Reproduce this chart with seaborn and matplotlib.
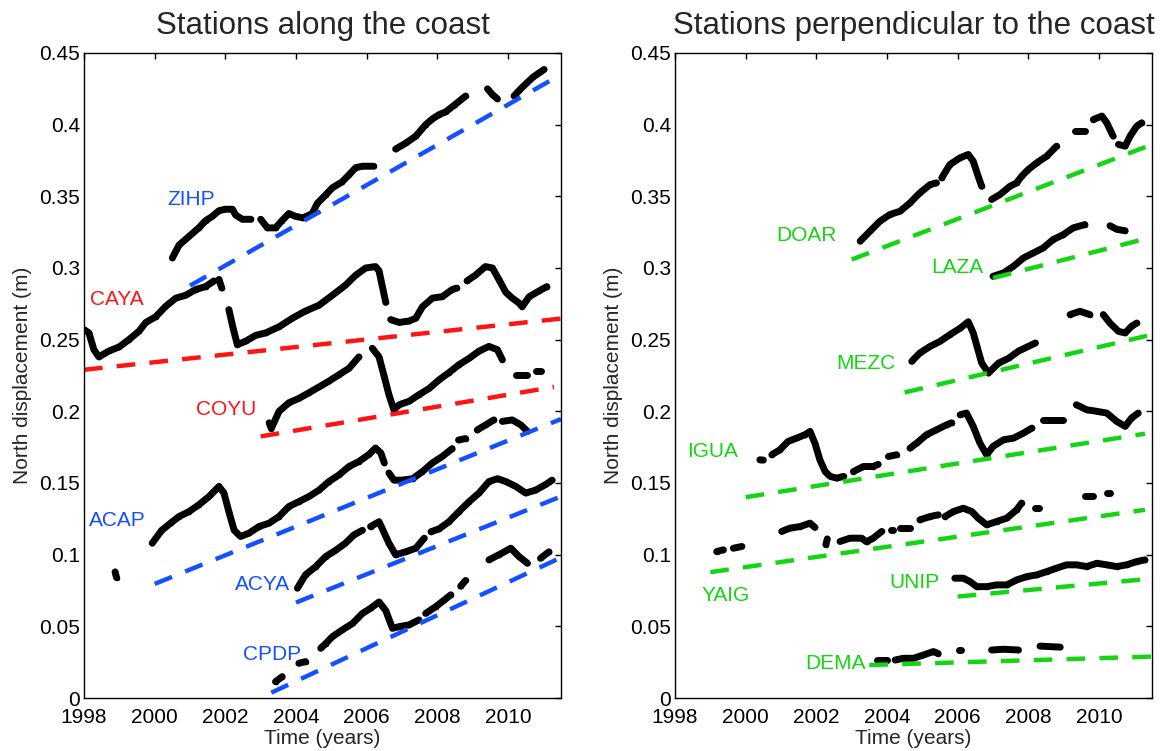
import numpy as np
import pandas as pd
import matplotlib
matplotlib.use("Agg")
import matplotlib.pyplot as plt
import seaborn as sns

nan = np.nan

# ---------------- data: left panel (stations along the coast) ----------------
ZIHP_t = [2000.5, 2000.69, 2000.97, 2001.25, 2001.44, 2001.63, 2001.82, 2002.0, 2002.2, 2002.29, 2002.48, 2002.72, nan,
          2003.0, 2003.19, 2003.42, 2003.6, 2003.8, 2003.99, 2004.2, 2004.46, 2004.6, 2004.84, 2005.03, 2005.3, 2005.5,
          2005.69, 2005.88, 2006.2, nan, 2006.82, 2007.1, 2007.39, 2007.67, 2007.86, 2008.05, 2008.24, 2008.5, 2008.8, nan,
          2009.42, 2009.56, 2009.7, nan, 2010.17, 2010.4, 2010.7, 2011.02]
ZIHP_v = [0.307, 0.316, 0.322, 0.328, 0.333, 0.336, 0.340, 0.341, 0.341, 0.337, 0.334, 0.334, nan,
          0.334, 0.328, 0.328, 0.333, 0.338, 0.336, 0.335, 0.338, 0.345, 0.351, 0.356, 0.360, 0.365,
          0.370, 0.371, 0.371, nan, 0.383, 0.387, 0.392, 0.400, 0.404, 0.407, 0.409, 0.414, 0.420, nan,
          0.425, 0.421, 0.418, nan, 0.420, 0.426, 0.433, 0.4385]

CAYA_t = [1998.0, 1998.14, 1998.28, 1998.42, 1998.7, 1999.0, 1999.27, 1999.56, 1999.75, 2000.03, 2000.3, 2000.6, 2000.88,
          2001.16, 2001.44, 2001.68, nan, 2001.82, 2001.9, nan, 2002.1, 2002.22, 2002.34, 2002.58, 2002.86, 2003.14,
          2003.52, 2003.9, 2004.27, 2004.65, 2005.03, 2005.4, 2005.69, 2005.97, 2006.25, 2006.35, 2006.54, nan,
          2006.68, 2006.92, 2007.2, 2007.39, 2007.58, 2007.86, 2008.14, 2008.42, 2008.55, nan, 2008.84, 2009.08,
          2009.36, 2009.56, 2009.74, 2009.94, 2010.12, 2010.31, 2010.4, 2010.6, 2010.88, 2011.1]
CAYA_v = [0.257, 0.2547, 0.243, 0.238, 0.242, 0.245, 0.250, 0.256, 0.262, 0.266, 0.273, 0.279, 0.281,
          0.285, 0.287, 0.291, nan, 0.292, 0.286, nan, 0.271, 0.258, 0.2465, 0.249, 0.253, 0.2547,
          0.259, 0.265, 0.270, 0.274, 0.281, 0.288, 0.295, 0.300, 0.301, 0.298, 0.276, nan,
          0.264, 0.262, 0.263, 0.265, 0.273, 0.279, 0.280, 0.285, 0.286, nan, 0.291, 0.295,
          0.301, 0.300, 0.292, 0.283, 0.279, 0.2756, 0.273, 0.280, 0.284, 0.287]

COYU_t = [2003.24, 2003.3, 2003.52, 2003.8, 2004.08, 2004.37, 2004.65, 2004.93, 2005.22, 2005.5, 2005.78, nan,
          2006.16, 2006.35, 2006.5, 2006.63, 2006.77, 2006.92, 2007.2, 2007.48, 2007.77, 2008.05, 2008.33, 2008.61,
          2008.9, 2009.18, 2009.46, 2009.7, 2009.84, nan, 2010.22, 2010.55, nan, 2010.78, 2010.92]
COYU_v = [0.192, 0.188, 0.200, 0.206, 0.209, 0.213, 0.217, 0.221, 0.2256, 0.230, 0.238, nan,
          0.244, 0.238, 0.224, 0.2116, 0.201, 0.2046, 0.207, 0.2116, 0.216, 0.222, 0.227, 0.2325,
          0.237, 0.242, 0.2453, 0.243, 0.236, nan, 0.2256, 0.2256, nan, 0.228, 0.228]

ACAP_t = [1998.88, 1998.92, nan, 1999.93, 2000.2, 2000.45, 2000.69, 2000.97, 2001.25, 2001.54, 2001.82, 2001.96, 2002.1,
          2002.25, 2002.43, 2002.67, 2002.95, 2003.24, 2003.52, 2003.8, 2004.08, 2004.37, 2004.65, 2004.93, 2005.22,
          2005.5, 2005.78, 2006.07, 2006.25, 2006.4, 2006.5, nan, 2006.63, 2006.77, 2007.0, 2007.3, 2007.58, 2007.86,
          2008.14, 2008.42, nan, 2008.6, 2008.8, nan, 2009.13, 2009.37, 2009.6, nan, 2009.84, 2010.12, 2010.36, 2010.55]
ACAP_v = [0.088, 0.084, nan, 0.108, 0.117, 0.122, 0.1266, 0.130, 0.1348, 0.1406, 0.1476, 0.143, 0.130,
          0.117, 0.1127, 0.115, 0.1196, 0.122, 0.1266, 0.1336, 0.137, 0.1406, 0.145, 0.151, 0.1557,
          0.1615, 0.165, 0.170, 0.1744, 0.171, 0.164, nan, 0.157, 0.152, 0.152, 0.153, 0.158, 0.164,
          0.1685, 0.174, nan, 0.180, 0.181, nan, 0.187, 0.1906, 0.194, nan, 0.193, 0.194, 0.1906, 0.186]

ACYA_t = [2004.04, 2004.27, 2004.56, 2004.84, 2005.12, 2005.4, 2005.64, 2005.88, nan, 2006.11, 2006.35, 2006.5, 2006.63,
          2006.82, 2007.1, 2007.39, 2007.63, nan, 2007.82, 2008.05, 2008.33, 2008.61, 2008.9, 2009.18, 2009.46, 2009.7,
          2009.94, 2010.22, 2010.5, 2010.78, 2011.07, 2011.25]
ACYA_v = [0.0766, 0.086, 0.0917, 0.0987, 0.103, 0.108, 0.1138, 0.117, nan, 0.1196, 0.123, 0.115, 0.108,
          0.0999, 0.102, 0.1045, 0.1115, nan, 0.116, 0.118, 0.123, 0.130, 0.137, 0.143, 0.151, 0.153,
          0.151, 0.1476, 0.143, 0.145, 0.149, 0.152]

CPDP_t = [2003.42, 2003.61, nan, 2004.08, 2004.27, nan, 2004.7, 2004.84, 2005.03, 2005.31, 2005.6, 2005.88, 2006.11,
          2006.35, 2006.54, 2006.73, 2006.92, 2007.2, 2007.48, nan, 2007.67, 2007.96, 2008.2, 2008.38, nan, 2008.66,
          2008.8, nan, 2009.46, 2009.74, 2010.08, 2010.31, 2010.55, nan, 2010.92, 2011.16]
CPDP_v = [0.0114, 0.0149, nan, 0.0242, 0.0254, nan, 0.0347, 0.038, 0.0428, 0.0475, 0.052, 0.059, 0.0626,
          0.067, 0.061, 0.0486, 0.0498, 0.051, 0.0545, nan, 0.059, 0.0638, 0.0684, 0.072, nan, 0.078,
          0.082, nan, 0.0964, 0.0999, 0.1045, 0.0987, 0.094, nan, 0.0975, 0.102]

# ---------------- data: right panel (stations perpendicular to the coast) ----------------
DOAR_t = [2003.24, 2003.52, 2003.8, 2004.08, 2004.37, 2004.65, 2004.93, 2005.22, 2005.4, nan, 2005.55, 2005.78, 2006.07,
          2006.3, 2006.44, 2006.58, 2006.68, nan, 2006.96, 2007.2, 2007.48, 2007.67, 2007.81, 2008.0, 2008.24, 2008.52,
          2008.8, nan, 2009.32, 2009.6, nan, 2009.84, 2010.08, 2010.22, 2010.4, nan, 2010.55, 2010.74, 2010.88, 2011.07,
          2011.21]
DOAR_v = [0.3187, 0.3257, 0.3326, 0.3373, 0.3396, 0.3454, 0.3524, 0.3582, 0.3594, nan, 0.3629, 0.3722, 0.3769,
          0.3792, 0.3745, 0.364, 0.357, nan, 0.3478, 0.3513, 0.357, 0.3594, 0.364, 0.3687, 0.3734, 0.378,
          0.385, nan, 0.3955, 0.3955, nan, 0.4036, 0.406, 0.4013, 0.392, nan, 0.3862, 0.385, 0.392, 0.399,
          0.4013]

LAZA_t = [2007.0, 2007.3, 2007.58, 2007.86, 2008.14, 2008.42, 2008.7, 2008.99, 2009.27, 2009.6, nan, 2010.31, 2010.5,
          2010.74]
LAZA_v = [0.2942, 0.2966, 0.3012, 0.307, 0.3105, 0.314, 0.3198, 0.3233, 0.328, 0.3303, nan, 0.3295, 0.327, 0.326]

MEZC_t = [2004.7, 2004.93, 2005.22, 2005.5, 2005.78, 2006.07, 2006.3, 2006.44, 2006.68, 2006.87, 2007.16, 2007.44,
          2007.72, 2008.0, 2008.2, nan, 2009.18, 2009.46, 2009.74, nan, 2010.12, 2010.31, 2010.55, 2010.74, 2010.92,
          2011.07]
MEZC_v = [0.2349, 0.2407, 0.2453, 0.2488, 0.2535, 0.258, 0.2625, 0.2547, 0.2337, 0.2267, 0.2337, 0.237,
          0.242, 0.2453, 0.2477, nan, 0.2675, 0.2698, 0.2675, nan, 0.2675, 0.2616, 0.2558, 0.2547, 0.2593,
          0.2616]

IGUA_t = [2000.4, 2000.5, nan, 2000.74, 2000.97, 2001.2, 2001.44, 2001.68, 2001.82, 2001.96, 2002.1, 2002.25, 2002.39,
          2002.58, 2002.77, nan, 2003.05, 2003.33, 2003.61, 2003.75, nan, 2004.04, 2004.27, nan, 2004.65, 2004.84,
          2005.12, 2005.4, 2005.69, 2005.83, nan, 2006.07, 2006.25, 2006.44, 2006.63, 2006.82, 2007.0, 2007.3, 2007.58,
          2007.86, 2008.1, nan, 2008.42, 2008.99, nan, 2009.36, 2009.65, 2009.94, 2010.22, 2010.5, 2010.74, 2010.92,
          2011.11]
IGUA_v = [0.1662, 0.166, nan, 0.1697, 0.1732, 0.179, 0.1813, 0.1837, 0.186, 0.1778, 0.1662, 0.158, 0.1546,
          0.1534, 0.1546, nan, 0.158, 0.1615, 0.1615, 0.163, nan, 0.1685, 0.1697, nan, 0.1743, 0.1778,
          0.1837, 0.1871, 0.1906, 0.192, nan, 0.1976, 0.1988, 0.1895, 0.1778, 0.1697, 0.1755, 0.1802, 0.1813,
          0.1848, 0.1883, nan, 0.1941, 0.1941, nan, 0.2046, 0.2011, 0.2, 0.1988, 0.193, 0.1895, 0.1953,
          0.1988]

YAIG_t = [1999.18, 1999.37, nan, 1999.65, 1999.89, nan, 2001.02, 2001.25, 2001.54, 2001.82, 2001.96, nan, 2002.27,
          2002.31, nan, 2002.67, 2002.95, 2003.28, 2003.42, 2003.61, 2003.85, nan, 2004.1, 2004.16, nan, 2004.37,
          2004.65, nan, 2004.93, 2005.22, 2005.45, nan, 2005.64, 2005.88, 2006.16, 2006.4, 2006.58, 2006.82, 2007.1,
          2007.39, 2007.67, 2007.81, nan, 2008.2, 2008.3, nan, 2009.6, 2009.84, nan, 2010.22, 2010.31]
YAIG_v = [0.1022, 0.1034, nan, 0.1045, 0.1057, nan, 0.1162, 0.1185, 0.1196, 0.122, 0.119, nan, 0.107,
          0.111, nan, 0.1092, 0.1115, 0.1115, 0.109, 0.1115, 0.1162, nan, 0.1173, 0.1173, nan, 0.1185,
          0.1185, nan, 0.1243, 0.1266, 0.1278, nan, 0.1266, 0.1301, 0.1324, 0.1301, 0.1255, 0.1208, 0.1231,
          0.1255, 0.1313, 0.136, nan, 0.1324, 0.1324, nan, 0.1406, 0.1406, nan, 0.143, 0.143]

UNIP_t = [2005.92, 2006.16, 2006.35, 2006.54, 2006.82, 2007.1, 2007.39, 2007.67, 2007.96, 2008.24, 2008.52, 2008.8,
          2009.08, 2009.37, 2009.65, 2009.94, 2010.22, 2010.5, 2010.78, 2011.07, 2011.3]
UNIP_v = [0.0836, 0.0836, 0.0812, 0.0777, 0.0777, 0.0789, 0.0789, 0.0824, 0.0847, 0.0859, 0.0882, 0.0906,
          0.0929, 0.0929, 0.0917, 0.094, 0.0929, 0.0917, 0.0929, 0.0952, 0.0964]

DEMA_t = [2003.71, 2003.99, nan, 2004.23, 2004.46, 2004.75, 2005.03, 2005.31, 2005.45, nan, 2006.04, 2006.1, nan,
          2006.96, 2007.3, 2007.72, nan, 2008.33, 2008.9]
DEMA_v = [0.0265, 0.0265, nan, 0.0265, 0.0277, 0.0277, 0.030, 0.0324, 0.031, nan, 0.0335, 0.0335, nan,
          0.0335, 0.034, 0.0335, nan, 0.0362, 0.0355]

# ---------------- trend lines: (start year, end year), (start value, end value) ----------------
trend_t = {"ZIHP": [2001.0, 2011.5], "CAYA": [1998.0, 2011.5], "COYU": [2003.0, 2011.3],
           "ACAP": [2000.0, 2011.5], "ACYA": [2004.0, 2011.5], "CPDP": [2003.3, 2011.5],
           "DOAR": [2003.0, 2011.5], "LAZA": [2007.0, 2011.3], "MEZC": [2004.5, 2011.5],
           "IGUA": [2000.0, 2011.3], "YAIG": [1999.0, 2011.3], "UNIP": [2006.0, 2011.5],
           "DEMA": [2003.5, 2011.5]}
trend_v = {"ZIHP": [0.2877, 0.435], "CAYA": [0.229, 0.2647], "COYU": [0.1825, 0.217],
           "ACAP": [0.0796, 0.1946], "ACYA": [0.0666, 0.1406], "CPDP": [0.0037, 0.098],
           "DOAR": [0.3059, 0.3862], "LAZA": [0.293, 0.3203], "MEZC": [0.2132, 0.2535],
           "IGUA": [0.1401, 0.1844], "YAIG": [0.0878, 0.1313], "UNIP": [0.0708, 0.0833],
           "DEMA": [0.023, 0.0289]}

# ---------------- station labels ----------------
label_t = {"ZIHP": 2001.03, "CAYA": 1998.93, "COYU": 2002.02, "ACAP": 1998.93, "ACYA": 2003.04, "CPDP": 2003.33,
           "DOAR": 2001.71, "LAZA": 2005.99, "MEZC": 2003.41, "IGUA": 1999.05, "YAIG": 1999.44, "UNIP": 2004.77,
           "DEMA": 2002.53}
label_v = {"ZIHP": 0.348, "CAYA": 0.278, "COYU": 0.2014, "ACAP": 0.1236, "ACYA": 0.0789, "CPDP": 0.0300,
           "DOAR": 0.3226, "LAZA": 0.3003, "MEZC": 0.2332, "IGUA": 0.1718, "YAIG": 0.0712, "UNIP": 0.0807,
           "DEMA": 0.0244}

left_stations = ["ZIHP", "CAYA", "COYU", "ACAP", "ACYA", "CPDP"]
right_stations = ["DOAR", "LAZA", "MEZC", "IGUA", "YAIG", "UNIP", "DEMA"]
series = {"ZIHP": (ZIHP_t, ZIHP_v), "CAYA": (CAYA_t, CAYA_v), "COYU": (COYU_t, COYU_v),
          "ACAP": (ACAP_t, ACAP_v), "ACYA": (ACYA_t, ACYA_v), "CPDP": (CPDP_t, CPDP_v),
          "DOAR": (DOAR_t, DOAR_v), "LAZA": (LAZA_t, LAZA_v), "MEZC": (MEZC_t, MEZC_v),
          "IGUA": (IGUA_t, IGUA_v), "YAIG": (YAIG_t, YAIG_v), "UNIP": (UNIP_t, UNIP_v),
          "DEMA": (DEMA_t, DEMA_v)}

BLUE = "#1550ff"
RED = "#ff1414"
GREEN = "#14d414"
colors = {"ZIHP": BLUE, "CAYA": RED, "COYU": RED, "ACAP": BLUE, "ACYA": BLUE, "CPDP": BLUE,
          "DOAR": GREEN, "LAZA": GREEN, "MEZC": GREEN, "IGUA": GREEN, "YAIG": GREEN, "UNIP": GREEN,
          "DEMA": GREEN}

# long table of points, split into continuous segments at NaN gaps
rows = []
for st, (tt, vv) in series.items():
    seg = 0
    for t, v in zip(tt, vv):
        if np.isnan(t):
            seg += 1
            continue
        rows.append({"station": st, "uid": f"{st}_{seg}", "t": t, "v": v})
pts = pd.DataFrame(rows)

trows = []
for st in trend_t:
    for t, v in zip(trend_t[st], trend_v[st]):
        trows.append({"station": st, "t": t, "v": v})
trends = pd.DataFrame(trows)

sns.set_style("white")
plt.rcParams["font.family"] = ["Liberation Sans", "DejaVu Sans"]

fig = plt.figure(figsize=(11.73, 7.51), dpi=100)
axL = fig.add_axes([84 / 1173, (751 - 698) / 751, 477 / 1173, 645 / 751])
axR = fig.add_axes([675 / 1173, (751 - 698) / 751, 477 / 1173, 645 / 751])

panels = [(axL, left_stations, "Stations along the coast"),
          (axR, right_stations, "Stations perpendicular to the coast")]

for ax, stations, title in panels:
    sub = pts[pts.station.isin(stations)]
    sns.lineplot(data=sub, x="t", y="v", units="uid", estimator=None, sort=False,
                 color="black", lw=5.0, ax=ax, legend=False, solid_capstyle="round")
    sns.scatterplot(data=sub, x="t", y="v", color="black", s=16, linewidth=0, ax=ax, legend=False)
    for st in stations:
        tr = trends[trends.station == st]
        sns.lineplot(data=tr, x="t", y="v", color=colors[st], lw=3.2, ax=ax, legend=False)
        ax.lines[-1].set_dashes([4.2, 3.2])
        ax.text(label_t[st], label_v[st], st, color=colors[st], fontsize=15,
                ha="center", va="center")
    ax.set_xlim(1998, 2011.5)
    ax.set_ylim(0, 0.45)
    ax.set_xticks([1998, 2000, 2002, 2004, 2006, 2008, 2010])
    ax.set_yticks([0, 0.05, 0.1, 0.15, 0.2, 0.25, 0.3, 0.35, 0.4, 0.45])
    ax.set_yticklabels(["0", "0.05", "0.1", "0.15", "0.2", "0.25", "0.3", "0.35", "0.4", "0.45"])
    ax.tick_params(direction="in", length=4, width=1, top=True, right=True, labelsize=15,
                   colors="black")
    ax.tick_params(axis="x", pad=7)
    ax.tick_params(axis="y", pad=3)
    for sp in ax.spines.values():
        sp.set_color("black")
        sp.set_linewidth(1.0)
    ax.set_xlabel("Time (years)", fontsize=15, labelpad=2)
    ax.set_ylabel("North displacement (m)", fontsize=15, labelpad=5)
    ax.set_title(title, fontsize=22.5, pad=14)

fig.savefig("out.png", dpi=100)
